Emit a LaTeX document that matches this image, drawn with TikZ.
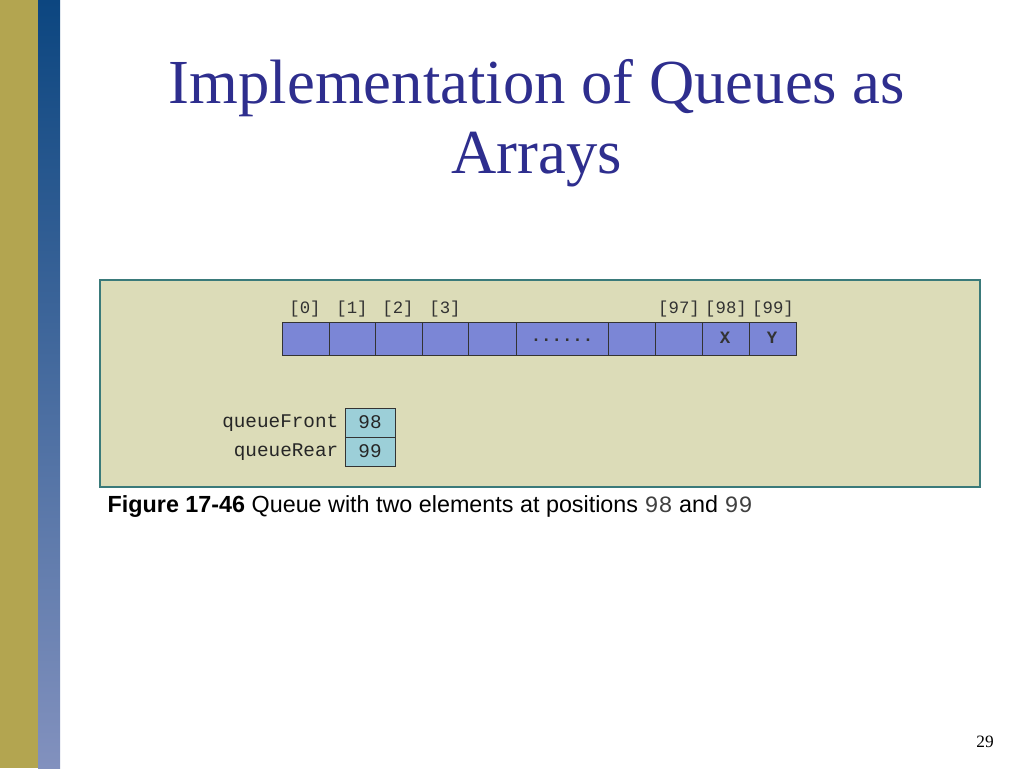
\documentclass[tikz,border=0pt]{standalone}
\usepackage{fontspec}
\setmainfont{Liberation Serif}
\newfontfamily\arial{Liberation Sans}
\newfontfamily\cour{Liberation Mono}
\begin{document}
\begin{tikzpicture}[x=0.75pt,y=-0.75pt,
  cell/.style={draw=black!80,fill=cellblue,line width=0.6pt},
  vcell/.style={draw=black!80,fill=cellcyan,line width=0.6pt},
  idx/.style={font=\cour\fontsize{13}{13}\selectfont,text=black!80},
  lbl/.style={font=\cour\fontsize{14.5}{14.5}\selectfont,text=black!85}]
\definecolor{cellblue}{HTML}{7B86D6}
\definecolor{cellcyan}{HTML}{9CCFD8}
\definecolor{panel}{HTML}{DCDCB8}
\definecolor{panelb}{HTML}{3A7A7A}
\definecolor{gold}{HTML}{B3A550}
\definecolor{titleblue}{HTML}{2E2E8E}
\useasboundingbox (0,0) rectangle (1024,768);
\fill[white] (0,0) rectangle (1024,768);
\fill[gold] (0,0) rectangle (38,768);
\shade[top color={rgb,255:red,12;green,70;blue,128}, bottom color={rgb,255:red,130;green,145;blue,190}] (38,0) rectangle (60,768);
\node[font=\fontsize{47}{47}\selectfont,text=titleblue] (t1) at (537,88) {Implementation of Queues as};
\node[font=\fontsize{47}{47}\selectfont,text=titleblue] (t2) at (537,160) {Arrays};
\draw[panelb,fill=panel,line width=1.2pt] (100,280) rectangle (980,487);
\foreach \a/\b/\n in {282/329/c0,329/375/c1,375/422/c2,422/468/c3,468/516/c4,516/608/cd,608/655/c97a,655/702/c97,702/749/c98,749/796/c99}
  \draw[cell] (\a,322) rectangle (\b,355) node[midway] (\n) {};
\node[idx] at (305,309) {[0]};
\node[idx] at (352,309) {[1]};
\node[idx] at (398,309) {[2]};
\node[idx] at (445,309) {[3]};
\node[idx] at (679,309) {[97]};
\node[idx] at (726,309) {[98]};
\node[idx] at (773,309) {[99]};
\node[idx,font=\cour\bfseries\fontsize{13}{13}\selectfont] at (562,340) {......};
\node[idx,font=\cour\bfseries\fontsize{13}{13}\selectfont] at (725,338) {X};
\node[idx,font=\cour\bfseries\fontsize{13}{13}\selectfont] at (772,338) {Y};
\draw[vcell] (345,408) rectangle (395,437) node[midway,lbl] (qf) {98};
\draw[vcell] (345,437) rectangle (395,466) node[midway,lbl] (qr) {99};
\node[lbl,anchor=east] at (343,423) {queueFront};
\node[lbl,anchor=east] at (343,452) {queueRear};
\node[anchor=west,font=\arial\fontsize{17.5}{17.5}\selectfont] (cap) at (103,507) {\textbf{Figure 17-46} Queue with two elements at positions {\cour\color{black!75}98} and {\cour\color{black!75}99}};
\node[font=\fontsize{13}{13}\selectfont] (pg) at (985,742) {29};
\end{tikzpicture}
\end{document}
